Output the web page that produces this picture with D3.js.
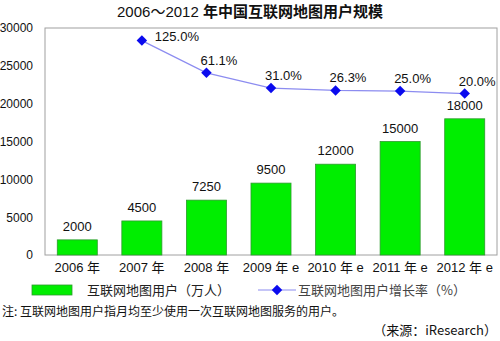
<!DOCTYPE html>
<html>
<head>
<meta charset="utf-8">
<script src="https://cdn.jsdelivr.net/npm/d3@7"></script>
<style>
  html, body { margin: 0; padding: 0; background: #fff; }
  svg { display: block; font-family: "Liberation Sans", Arial, "Noto Sans CJK SC", sans-serif; }
</style>
</head>
<body>
<svg id="chart" width="500" height="341"></svg>
<script>
// Internet map users in China, 2006–2012 (10k people) and yearly growth rate (%)
const categories = ["2006 年", "2007 年", "2008 年", "2009 年 e", "2010 年 e", "2011 年 e", "2012 年 e"];
const users = [2000, 4500, 7250, 9500, 12000, 15000, 18000];
const growthYears = ["2007 年", "2008 年", "2009 年 e", "2010 年 e", "2011 年 e", "2012 年 e"];
const growth = [125.0, 61.1, 31.0, 26.3, 25.0, 20.0];
const yTicks = [0, 5000, 10000, 15000, 20000, 25000, 30000];

const svg = d3.select("#chart");
const plot = { left: 45, right: 497, top: 28, bottom: 255 };

const x = d3.scaleBand().domain(categories).range([plot.left, plot.right]).paddingInner(0.38).paddingOuter(0.19);
const y = d3.scaleLinear().domain([0, 30000]).range([plot.bottom, plot.top]);
// secondary (hidden) scale for the growth line
const y2 = d3.scaleLinear().domain([-300, 150]).range([plot.bottom, plot.top]);

// title
const title = svg.append("text")
  .attr("x", 250).attr("y", 17)
  .attr("text-anchor", "middle")
  .attr("font-size", 15)
  .attr("fill", "#111");
title.append("tspan").text("2006～2012 ");
title.append("tspan").attr("font-weight", "bold")
  .attr("font-family", "'Noto Sans CJK SC', sans-serif").text("年中国互联网地图用户规模");

// plot frame
svg.append("rect")
  .attr("x", plot.left).attr("y", plot.top)
  .attr("width", plot.right - plot.left).attr("height", plot.bottom - plot.top)
  .attr("fill", "#fff").attr("stroke", "#a0a0a0").attr("stroke-width", 1);

// y axis labels
const yAxis = d3.axisLeft(y).tickValues(yTicks).tickSize(0).tickPadding(12).tickFormat(d3.format("d"));
const ya = svg.append("g").attr("transform", `translate(${plot.left},0)`).call(yAxis);
ya.select(".domain").remove();
ya.selectAll("text").attr("font-size", 12).attr("fill", "#111")
  .attr("font-family", "'Liberation Sans', Arial, sans-serif");

// x axis labels
const xAxis = d3.axisBottom(x).tickSize(0).tickPadding(8);
const xa = svg.append("g").attr("transform", `translate(0,${plot.bottom})`).call(xAxis);
xa.select(".domain").remove();
xa.selectAll("text").attr("font-size", 13).attr("fill", "#111")
  .attr("font-family", "'Liberation Sans', Arial, 'Noto Sans CJK SC', sans-serif");

// bars
svg.append("g").selectAll("rect").data(users).join("rect")
  .attr("x", (d, i) => x(categories[i]))
  .attr("y", d => y(d))
  .attr("width", x.bandwidth())
  .attr("height", d => y(0) - y(d))
  .attr("fill", "#00ee00")
  .attr("stroke", "#2e9a2e").attr("stroke-width", 0.8);

// bar value labels
svg.append("g").selectAll("text").data(users).join("text")
  .attr("x", (d, i) => x(categories[i]) + x.bandwidth() / 2)
  .attr("y", d => y(d) - 9)
  .attr("text-anchor", "middle")
  .attr("font-size", 13).attr("fill", "#111")
  .text(d => d);

// growth line
const cx = (i) => x(growthYears[i]) + x.bandwidth() / 2;
const line = d3.line().x((d, i) => cx(i)).y(d => y2(d));
svg.append("path").datum(growth)
  .attr("d", line)
  .attr("fill", "none").attr("stroke", "#8c8cf0").attr("stroke-width", 1.2);

const diamond = d3.symbol().type(d3.symbolDiamond2).size(70);
svg.append("g").selectAll("path").data(growth).join("path")
  .attr("transform", (d, i) => `translate(${cx(i)},${y2(d)})`)
  .attr("d", diamond)
  .attr("fill", "#0a0aee");

// growth labels
svg.append("g").selectAll("text").data(growth).join("text")
  .attr("x", (d, i) => i === 0 ? cx(i) + 13 : cx(i) - 6)
  .attr("y", (d, i) => i === 0 ? y2(d) : y2(d) - 8)
  .attr("font-size", 13).attr("fill", "#111")
  .text(d => d.toFixed(1) + "%");

// legend
const lg = svg.append("g");
lg.append("rect").attr("x", 32).attr("y", 285).attr("width", 40).attr("height", 10)
  .attr("fill", "#00ee00").attr("stroke", "#2e9a2e").attr("stroke-width", 0.8);
lg.append("text").attr("x", 87).attr("y", 295).attr("font-size", 13).attr("fill", "#222")
  .attr("font-family", "'Noto Sans CJK SC', sans-serif")
  .text("互联网地图用户（万人）");
lg.append("line").attr("x1", 258).attr("x2", 296).attr("y1", 290).attr("y2", 290)
  .attr("stroke", "#8c8cf0").attr("stroke-width", 1.2);
lg.append("path").attr("transform", "translate(277,290)").attr("d", diamond).attr("fill", "#0a0aee");
lg.append("text").attr("x", 298).attr("y", 295).attr("font-size", 13).attr("fill", "#444")
  .attr("font-family", "'Noto Sans CJK SC', sans-serif")
  .text("互联网地图用户增长率（%）");

// footnotes
svg.append("text").attr("x", 2).attr("y", 316).attr("font-size", 12).attr("fill", "#111")
  .attr("font-family", "'Noto Sans CJK SC', sans-serif")
  .text("注: 互联网地图用户指月均至少使用一次互联网地图服务的用户。");
svg.append("text").attr("x", 497).attr("y", 335).attr("text-anchor", "end")
  .attr("font-size", 13).attr("fill", "#111")
  .attr("font-family", "'Noto Sans CJK SC', sans-serif")
  .text("（来源：iResearch）");
</script>
</body>
</html>
